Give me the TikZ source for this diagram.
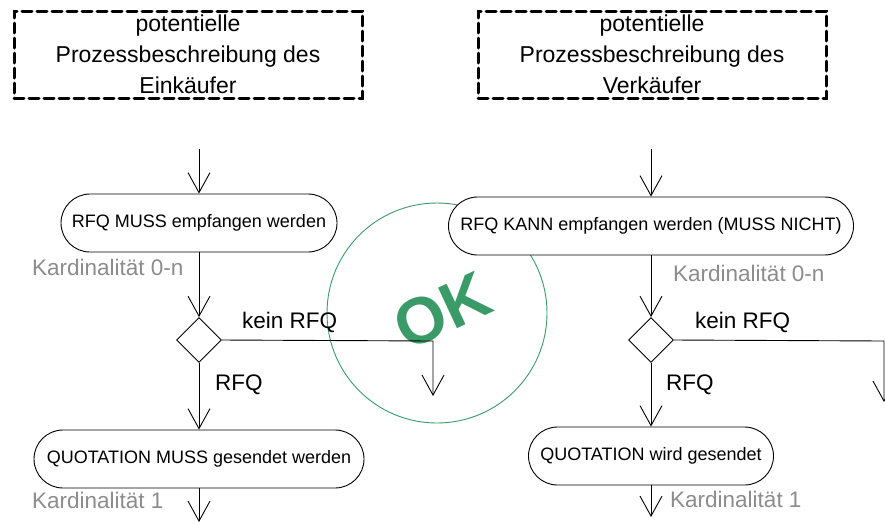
\documentclass[tikz,border=0pt]{standalone}
\usepackage{fontspec}
\setmainfont{Liberation Sans}
\usetikzlibrary{arrows.meta,shapes.geometric}
\definecolor{okgreen}{HTML}{3A9A68}
\definecolor{cardgray}{HTML}{8C8C8C}
\begin{document}
\begin{tikzpicture}[x=1pt,y=-1pt,
  flow/.style={draw,line width=0.9pt,-{Straight Barb[length=20pt,width=22pt,line width=0.9pt]}},
  titlebox/.style={draw,line width=3pt,dash pattern=on 10pt off 5pt,line cap=round,
    minimum width=348pt,minimum height=87pt,inner sep=0pt,align=center,
    font=\fontsize{23}{31}\selectfont},
  action/.style={draw,fill=white,line width=0.9pt,rounded corners=29pt,
    minimum height=58pt,inner sep=0pt,font=\fontsize{18}{22}\selectfont},
  decision/.style={draw,fill=white,diamond,line width=0.9pt,
    minimum width=45pt,minimum height=45pt,inner sep=0pt},
  guard/.style={inner sep=0pt,anchor=west,font=\fontsize{22.5}{26}\selectfont},
  card/.style={guard,text=cardgray},
]
\useasboundingbox (0,0) rectangle (885,523);

% stamp behind the flow
\draw[okgreen,line width=0.9pt] (437,313) circle[radius=110pt];
\node[rotate=25,text=okgreen,inner sep=0pt,font=\bfseries\fontsize{65}{65}\selectfont] (ok) at (442,311) {OK};

% headers
\node[titlebox] (hdrL) at (188,54.5) {potentielle\\Prozessbeschreibung des\\Einkäufer};
\node[titlebox] (hdrR) at (652,54.5) {potentielle\\Prozessbeschreibung des\\Verkäufer};

% entry / exit points and branch corners
\coordinate (inL) at (199,149);
\coordinate (inR) at (651,149);
\coordinate (kL) at (433,341);
\coordinate (eL) at (433,396);
\coordinate (kR) at (884,341);
\coordinate (eR) at (884,402);
\coordinate (outL) at (199,522);
\coordinate (outR) at (651,517);

% buyer side
\node[action,minimum width=276pt] (recvL) at (199,223) {RFQ MUSS empfangen werden};
\node[decision] (decL) at (199,340) {};
\node[action,minimum width=330pt] (sendL) at (199,459) {QUOTATION MUSS gesendet werden};

% seller side
\node[action,minimum width=405pt] (recvR) at (651,226) {RFQ KANN empfangen werden (MUSS NICHT)};
\node[decision] (decR) at (651,340) {};
\node[action,minimum width=245pt] (sendR) at (651,456) {QUOTATION wird gesendet};

% connectors
\draw[flow] (inL) -- (recvL.north);
\draw[flow] (recvL.south) -- (decL.north);
\draw[flow] (decL.east) -- (kL) -- (eL);
\draw[flow] (decL.south) -- (sendL.north);
\draw[flow] (sendL.south) -- (outL);

\draw[flow] (inR) -- (recvR.north);
\draw[flow] (recvR.south) -- (decR.north);
\draw[flow] (decR.east) -- (kR) -- (eR);
\draw[flow] (decR.south) -- (sendR.north);
\draw[flow] (sendR.south) -- (outR);

% guards and cardinalities
\node[guard] (gkL) at (242,322) {kein RFQ};
\node[guard] (gyL) at (215,385) {RFQ};
\node[guard] (gkR) at (695,322) {kein RFQ};
\node[guard] (gyR) at (666,385) {RFQ};
\node[card] (cL1) at (32,267) {Kardinalität 0-n};
\node[card] (cR1) at (673,273) {Kardinalität 0-n};
\node[card] (cL2) at (32,500) {Kardinalität 1};
\node[card] (cR2) at (670,499) {Kardinalität 1};
\end{tikzpicture}
\end{document}
